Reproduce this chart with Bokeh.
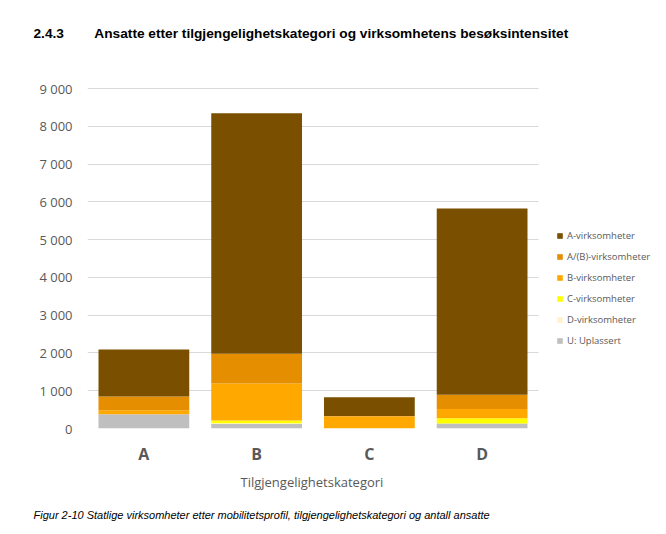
from bokeh.plotting import figure
from bokeh.models import (Range1d, FixedTicker, Legend, LegendItem, Title, BoxAnnotation)
from bokeh.embed import file_html
from bokeh.resources import INLINE

categories = ["A", "B", "C", "D"]
series_names = ["U: Uplassert", "D-virksomheter", "C-virksomheter",
                "B-virksomheter", "A/(B)-virksomheter", "A-virksomheter"]
u_uplassert = [375, 120, 0, 130]
d_virks = [0, 20, 0, 0]
c_virks = [0, 70, 0, 140]
b_virks = [105, 980, 320, 248]
ab_virks = [370, 786, 10, 377]
a_virks = [1240, 6367, 500, 4928]
colors = ["#BFBFBF", "#FFF2CC", "#FFFF00", "#FFA800", "#E58E00", "#7A5000"]
y_ticks = [0, 1000, 2000, 3000, 4000, 5000, 6000, 7000, 8000, 9000]
y_tick_labels = ["0", "1 000", "2 000", "3 000", "4 000", "5 000",
                 "6 000", "7 000", "8 000", "9 000"]
heading_number = "2.4.3"
heading_text = "Ansatte etter tilgjengelighetskategori og virksomhetens besøksintensitet"
x_title = "Tilgjengelighetskategori"
caption = "Figur 2-10 Statlige virksomheter etter mobilitetsprofil, tilgjengelighetskategori og antall ansatte"

# ---- layout constants (pixels) ----
W, H = 666, 534
L, R, T, B = 87, 0, 60, 106
plot_right = 538          # where the gridlines end
y_top_px = 88             # pixel row of the 9000 gridline
frame_bottom = H - B
frame_w = W - L - R
cat_px = (plot_right - L) / len(categories)
x_start = -0.5
x_end = x_start + frame_w / cat_px
y_end = y_ticks[-1] * (frame_bottom - T) / (frame_bottom - y_top_px)

xs = list(range(len(categories)))
data = dict(x=xs)
keys = ["u", "d", "c", "b", "ab", "a"]
for k, arr in zip(keys, [u_uplassert, d_virks, c_virks, b_virks, ab_virks, a_virks]):
    data[k] = arr

p = figure(width=W, height=H, x_range=Range1d(x_start, x_end),
           y_range=Range1d(0, y_end), output_backend="svg", toolbar_location=None,
           min_border_left=L, min_border_right=R, min_border_top=T, min_border_bottom=B)
p.outline_line_color = None
p.background_fill_color = "white"
p.border_fill_color = "white"

p.xgrid.grid_line_color = None
p.ygrid.grid_line_color = "#D9D9D9"
p.ygrid.grid_line_width = 1
p.ygrid.ticker = FixedTicker(ticks=y_ticks)

# blank out gridlines to the right of the plot area (legend area)
p.add_layout(BoxAnnotation(left=xs[-1] + 0.5, fill_color="white", fill_alpha=1,
                           line_color=None, level="underlay"))

renderers = p.vbar_stack(keys, x="x", width=0.805, color=colors, source=data,
                         line_color=None)

p.yaxis.ticker = FixedTicker(ticks=y_ticks)
p.yaxis.major_label_overrides = {t: s for t, s in zip(y_ticks, y_tick_labels)}
p.yaxis.axis_line_color = None
p.yaxis.major_tick_line_color = None
p.yaxis.minor_tick_line_color = None
p.yaxis.major_label_standoff = 9
p.yaxis.major_label_text_font = "Open Sans"
p.yaxis.major_label_text_font_size = "13px"
p.yaxis.major_label_text_color = "#595959"

p.xaxis.ticker = FixedTicker(ticks=xs)
p.xaxis.major_label_overrides = {i: c for i, c in zip(xs, categories)}
p.xaxis.axis_line_color = None
p.xaxis.major_tick_line_color = None
p.xaxis.minor_tick_line_color = None
p.xaxis.major_label_standoff = 8
p.xaxis.major_label_text_font = "Open Sans"
p.xaxis.major_label_text_font_style = "bold"
p.xaxis.major_label_text_font_size = "16px"
p.xaxis.major_label_text_color = "#595959"

items = [LegendItem(label=n, renderers=[r]) for n, r in zip(series_names, renderers)][::-1]
legend = Legend(items=items, location=(556 - L, 81), orientation="vertical",
                glyph_width=7, glyph_height=7, label_height=14, spacing=7,
                label_standoff=4, padding=0, margin=0,
                label_text_font="Open Sans", label_text_font_size="9.5px",
                label_text_color="#595959", border_line_color=None,
                background_fill_alpha=0)
p.add_layout(legend, "center")

nb = "\u00a0" * 8
p.add_layout(Title(text=heading_number + nb + heading_text, align="left", offset=33 - L,
                   standoff=40, text_font="Liberation Sans", text_font_style="bold",
                   text_font_size="13.7px", text_color="#000000"), "above")
# x-axis title, centred under the four categories (not under the legend area)
p.add_layout(Title(text=x_title, align="left", offset=240 - L, standoff=6,
                   text_font="Open Sans", text_font_style="normal",
                   text_font_size="13px", text_color="#595959"), "below")
p.add_layout(Title(text=caption, align="left", offset=33 - L, standoff=26,
                   text_font="Liberation Sans", text_font_style="italic",
                   text_font_size="11px", text_color="#000000"), "below")

open("out.html", "w").write(file_html(p, INLINE))
